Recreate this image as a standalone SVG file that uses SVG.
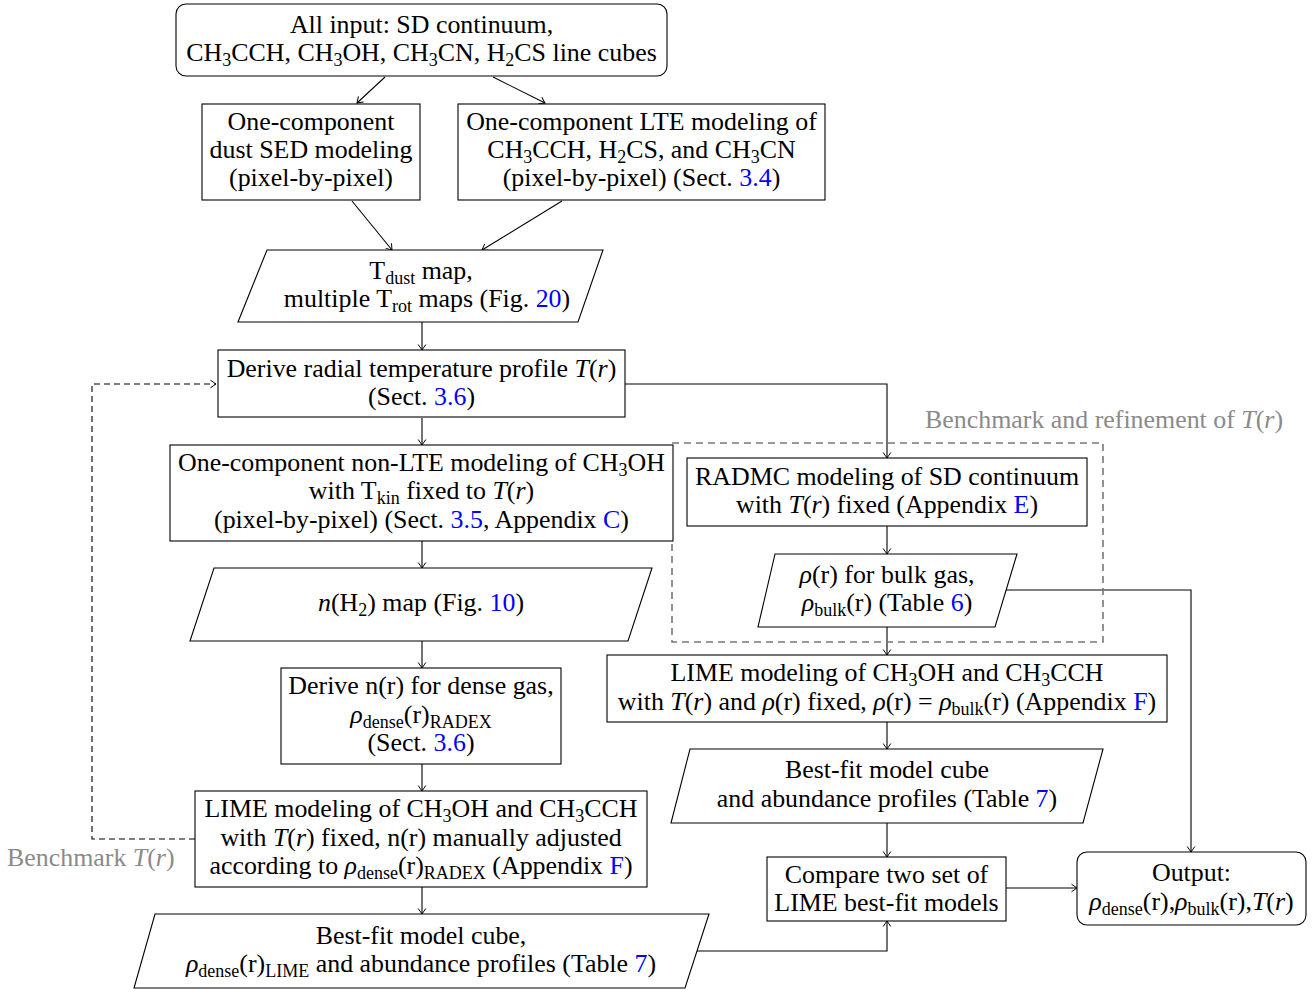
<svg xmlns="http://www.w3.org/2000/svg" width="1316" height="992" viewBox="0 0 1316 992">
<style>
.box{fill:#fff;stroke:#000;stroke-width:1.1}
.t{font-family:"Liberation Serif","Times New Roman",serif;font-size:25.9px;fill:#000;text-anchor:middle}
.l{text-anchor:start}
.s{font-size:18px}
.i{font-style:italic}
.b{fill:#0000ff}
.g{fill:#8a8a8a}
.c{fill:none;stroke:#000;stroke-width:1.1;marker-end:url(#ar)}
.d{fill:none;stroke:#000;stroke-width:1.1;stroke-dasharray:6 4}
.gb{fill:none;stroke:#777;stroke-width:1.6;stroke-dasharray:7 5}
</style>
<defs>
<marker id="ar" markerUnits="userSpaceOnUse" viewBox="-7 -5 8 10" refX="0" refY="0" markerWidth="8" markerHeight="10" orient="auto">
<path d="M-5.5,-3.8 Q-1.5,-1 0,0 Q-1.5,1 -5.5,3.8" fill="none" stroke="#000" stroke-width="1"/>
</marker>
</defs>
<rect width="1316" height="992" fill="#fff"/>

<g id="connectors">
<line class="c" x1="385" y1="77" x2="357" y2="103"/>
<line class="c" x1="493" y1="77" x2="545" y2="103"/>
<line class="c" x1="352" y1="201" x2="392" y2="250"/>
<line class="c" x1="562" y1="201" x2="482" y2="250"/>
<line class="c" x1="422" y1="322" x2="422" y2="350"/>
<line class="c" x1="422" y1="418" x2="422" y2="445"/>
<polyline class="c" points="625,384 887,384 887,458"/>
<line class="c" x1="422" y1="541" x2="422" y2="568"/>
<line class="c" x1="422" y1="641" x2="422" y2="668"/>
<line class="c" x1="422" y1="764" x2="422" y2="791"/>
<line class="c" x1="422" y1="887" x2="422" y2="914"/>
<polyline class="c" points="697,951 887,951 887,921"/>
<polyline class="d" points="195,839 92,839 92,384 216,384" marker-end="url(#ar)"/>
<line class="c" x1="887" y1="526" x2="887" y2="554"/>
<polyline class="c" points="1003,590 1191,590 1191,852"/>
<line class="c" x1="887" y1="627" x2="887" y2="655"/>
<line class="c" x1="887" y1="722" x2="887" y2="749"/>
<line class="c" x1="887" y1="823" x2="887" y2="857"/>
<line class="c" x1="1006" y1="888" x2="1077" y2="888"/>
</g>

<g id="bench-group">
<rect class="gb" x="672" y="443" width="431" height="199"/>
<text class="t l g" x="925" y="428">Benchmark and refinement of <tspan class="i">T</tspan>(<tspan class="i">r</tspan>)</text>
</g>
<g id="bench-label">
<text class="t l g" x="7" y="866">Benchmark <tspan class="i">T</tspan>(<tspan class="i">r</tspan>)</text>
</g>

<g id="input">
<rect class="box" x="176" y="4" width="491" height="72" rx="10"/>
<text class="t" x="421.5" y="33">All input: SD continuum,</text>
<text class="t" x="421.5" y="61">CH<tspan class="s" dy="5">3</tspan><tspan dy="-5">CCH, CH</tspan><tspan class="s" dy="5">3</tspan><tspan dy="-5">OH, CH</tspan><tspan class="s" dy="5">3</tspan><tspan dy="-5">CN, H</tspan><tspan class="s" dy="5">2</tspan><tspan dy="-5">CS line cubes</tspan></text>
</g>

<g id="dustsed">
<rect class="box" x="202" y="104" width="218" height="96"/>
<text class="t" x="311" y="130">One-component</text>
<text class="t" x="311" y="158">dust SED modeling</text>
<text class="t" x="311" y="186">(pixel-by-pixel)</text>
</g>

<g id="lte">
<rect class="box" x="458" y="104" width="367" height="96"/>
<text class="t" x="641.5" y="130">One-component LTE modeling of</text>
<text class="t" x="641.5" y="158">CH<tspan class="s" dy="5">3</tspan><tspan dy="-5">CCH, H</tspan><tspan class="s" dy="5">2</tspan><tspan dy="-5">CS, and CH</tspan><tspan class="s" dy="5">3</tspan><tspan dy="-5">CN</tspan></text>
<text class="t" x="641.5" y="186">(pixel-by-pixel) (Sect. <tspan class="b">3.4</tspan>)</text>
</g>

<g id="tmaps">
<polygon class="box" points="267,250 603,250 578,322 238,322"/>
<text class="t" x="421" y="279">T<tspan class="s" dy="5">dust</tspan><tspan dy="-5"> map,</tspan></text>
<text class="t" x="427" y="307">multiple T<tspan class="s" dy="5">rot</tspan><tspan dy="-5"> maps (Fig. </tspan><tspan class="b">20</tspan>)</text>
</g>

<g id="radial">
<rect class="box" x="218" y="350" width="407" height="67"/>
<text class="t" x="421.5" y="377">Derive radial temperature profile <tspan class="i">T</tspan>(<tspan class="i">r</tspan>)</text>
<text class="t" x="421.5" y="405">(Sect. <tspan class="b">3.6</tspan>)</text>
</g>

<g id="nonlte">
<rect class="box" x="170" y="445" width="503" height="96"/>
<text class="t" x="421.5" y="471">One-component non-LTE modeling of CH<tspan class="s" dy="5">3</tspan><tspan dy="-5">OH</tspan></text>
<text class="t" x="421.5" y="499">with T<tspan class="s" dy="5">kin</tspan><tspan dy="-5"> fixed to </tspan><tspan class="i">T</tspan>(<tspan class="i">r</tspan>)</text>
<text class="t" x="421.5" y="528">(pixel-by-pixel) (Sect. <tspan class="b">3.5</tspan>, Appendix <tspan class="b">C</tspan>)</text>
</g>

<g id="nh2">
<polygon class="box" points="214,568 652,568 628,641 190,641"/>
<text class="t" x="421" y="611"><tspan class="i">n</tspan>(H<tspan class="s" dy="5">2</tspan><tspan dy="-5">) map (Fig. </tspan><tspan class="b">10</tspan>)</text>
</g>

<g id="dense">
<rect class="box" x="281" y="668" width="280" height="96"/>
<text class="t" x="421" y="694">Derive n(r) for dense gas,</text>
<text class="t" x="421" y="723"><tspan class="i">ρ</tspan><tspan class="s" dy="5">dense</tspan><tspan dy="-5">(r)</tspan><tspan class="s" dy="5">RADEX</tspan></text>
<text class="t" x="421" y="751">(Sect. <tspan class="b">3.6</tspan>)</text>
</g>

<g id="limeleft">
<rect class="box" x="195" y="791" width="452" height="96"/>
<text class="t" x="421" y="817">LIME modeling of CH<tspan class="s" dy="5">3</tspan><tspan dy="-5">OH and CH</tspan><tspan class="s" dy="5">3</tspan><tspan dy="-5">CCH</tspan></text>
<text class="t" x="421" y="846">with <tspan class="i">T</tspan>(<tspan class="i">r</tspan>) fixed, n(r) manually adjusted</text>
<text class="t" x="421" y="874">according to <tspan class="i">ρ</tspan><tspan class="s" dy="5">dense</tspan><tspan dy="-5">(r)</tspan><tspan class="s" dy="5">RADEX</tspan><tspan dy="-5"> (Appendix </tspan><tspan class="b">F</tspan>)</text>
</g>

<g id="bestleft">
<polygon class="box" points="155,914 709,914 685,988 134,988"/>
<text class="t" x="421" y="944">Best-fit model cube,</text>
<text class="t" x="421" y="972"><tspan class="i">ρ</tspan><tspan class="s" dy="5">dense</tspan><tspan dy="-5">(r)</tspan><tspan class="s" dy="5">LIME</tspan><tspan dy="-5"> and abundance profiles (Table </tspan><tspan class="b">7</tspan>)</text>
</g>

<g id="radmc">
<rect class="box" x="687" y="458" width="400" height="68"/>
<text class="t" x="887" y="485">RADMC modeling of SD continuum</text>
<text class="t" x="887" y="513">with <tspan class="i">T</tspan>(<tspan class="i">r</tspan>) fixed (Appendix <tspan class="b">E</tspan>)</text>
</g>

<g id="rhobulk">
<polygon class="box" points="775,554 1017,554 995,627 758,627"/>
<text class="t" x="887" y="583"><tspan class="i">ρ</tspan>(r) for bulk gas,</text>
<text class="t" x="887" y="611"><tspan class="i">ρ</tspan><tspan class="s" dy="5">bulk</tspan><tspan dy="-5">(r) (Table </tspan><tspan class="b">6</tspan>)</text>
</g>

<g id="limeright">
<rect class="box" x="607" y="655" width="560" height="67"/>
<text class="t" x="887" y="681">LIME modeling of CH<tspan class="s" dy="5">3</tspan><tspan dy="-5">OH and CH</tspan><tspan class="s" dy="5">3</tspan><tspan dy="-5">CCH</tspan></text>
<text class="t" x="887" y="710">with <tspan class="i">T</tspan>(<tspan class="i">r</tspan>) and <tspan class="i">ρ</tspan>(r) fixed, <tspan class="i">ρ</tspan>(r) = <tspan class="i">ρ</tspan><tspan class="s" dy="5">bulk</tspan><tspan dy="-5">(r) (Appendix </tspan><tspan class="b">F</tspan>)</text>
</g>

<g id="bestright">
<polygon class="box" points="690,749 1103,749 1083,823 671,823"/>
<text class="t" x="887" y="778">Best-fit model cube</text>
<text class="t" x="887" y="807">and abundance profiles (Table <tspan class="b">7</tspan>)</text>
</g>

<g id="compare">
<rect class="box" x="767" y="857" width="239" height="64"/>
<text class="t" x="886.5" y="883">Compare two set of</text>
<text class="t" x="886.5" y="911">LIME best-fit models</text>
</g>

<g id="output">
<rect class="box" x="1077" y="852" width="229" height="73" rx="10"/>
<text class="t" x="1191.5" y="881">Output:</text>
<text class="t" x="1191.5" y="910"><tspan class="i">ρ</tspan><tspan class="s" dy="5">dense</tspan><tspan dy="-5">(r),</tspan><tspan class="i">ρ</tspan><tspan class="s" dy="5">bulk</tspan><tspan dy="-5">(r),</tspan><tspan class="i">T</tspan>(<tspan class="i">r</tspan>)</text>
</g>
</svg>
